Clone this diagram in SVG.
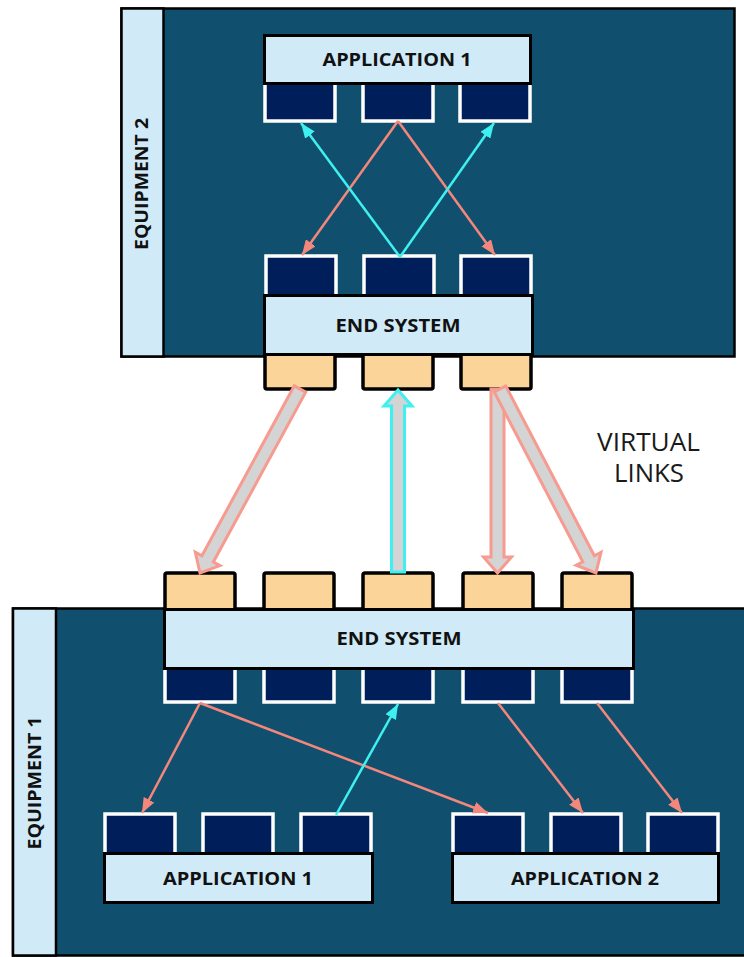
<svg xmlns="http://www.w3.org/2000/svg" width="744" height="957" viewBox="0 0 744 957">
<style>
.equip{fill:#10506e;stroke:#000;stroke-width:2.5}
.lab{fill:#d0eaf7;stroke:#000;stroke-width:2.5}
.box{fill:#d0eaf7;stroke:#000;stroke-width:3}
.port{fill:#001e5a;stroke:#fff;stroke-width:3.5}
.oport{fill:#fbd499;stroke:#000;stroke-width:3.5}
.t{font-family:"Open Sans","DejaVu Sans",sans-serif;font-weight:bold;fill:#111;text-anchor:middle}
.vl{font-family:"Open Sans","DejaVu Sans",sans-serif;font-size:25px;fill:#1a1a1a;text-anchor:middle}
.pk{stroke:#f4877c;stroke-width:2.5;fill:none;marker-end:url(#ap)}
.cy{stroke:#3ff0f0;stroke-width:2.5;fill:none;marker-end:url(#ac)}
.vp{fill:#d4d4d4;stroke:#f79a8f;stroke-width:3;stroke-linejoin:miter}
.vc{fill:#d4d4d4;stroke:#3ff0f0;stroke-width:3}
</style>
<defs>
<marker id="ap" markerUnits="userSpaceOnUse" markerWidth="16" markerHeight="12" refX="15" refY="6" orient="auto"><path d="M0,0 L15,6 L0,12 z" fill="#f4877c"/></marker>
<marker id="ac" markerUnits="userSpaceOnUse" markerWidth="16" markerHeight="12" refX="15" refY="6" orient="auto"><path d="M0,0 L15,6 L0,12 z" fill="#3ff0f0"/></marker>
</defs>
<g id="equipment2">
<rect class="equip" x="121.5" y="8.5" width="613" height="348"/>
<rect class="lab" x="121.5" y="8.5" width="42" height="348"/>
<text class="t" font-size="18" x="142" y="184" dy="0.35em" textLength="132" lengthAdjust="spacingAndGlyphs" transform="rotate(-90 142 184)">EQUIPMENT 2</text>
</g>
<g id="equipment1">
<rect class="equip" x="13" y="608.5" width="740" height="347"/>
<rect class="lab" x="13" y="608.5" width="43" height="347"/>
<text class="t" font-size="18" x="35" y="783" dy="0.35em" textLength="133" lengthAdjust="spacingAndGlyphs" transform="rotate(-90 35 783)">EQUIPMENT 1</text>
</g>
<g id="app1-top">
<rect class="port" x="265" y="78" width="70" height="43"/>
<rect class="port" x="363" y="78" width="70" height="43"/>
<rect class="port" x="460" y="78" width="70" height="43"/>
<rect class="box" x="264.5" y="35.5" width="266" height="48"/>
<text class="t" font-size="18" x="397" y="66" textLength="149" lengthAdjust="spacingAndGlyphs">APPLICATION 1</text>
</g>
<g id="es-top">
<rect class="port" x="266" y="256" width="70" height="44"/>
<rect class="port" x="364" y="256" width="70" height="44"/>
<rect class="port" x="461" y="256" width="70" height="44"/>
<rect class="oport" x="265" y="348" width="70" height="41" rx="2"/>
<rect class="oport" x="363" y="348" width="70" height="41" rx="2"/>
<rect class="oport" x="461" y="348" width="70" height="41" rx="2"/>
<rect class="box" x="264.5" y="295.5" width="268" height="59"/>
<text class="t" font-size="18" x="398" y="331.5" textLength="125" lengthAdjust="spacingAndGlyphs">END SYSTEM</text>
</g>
<g id="es-bottom">
<rect class="oport" x="165" y="573" width="70" height="40" rx="2"/>
<rect class="oport" x="264" y="573" width="70" height="40" rx="2"/>
<rect class="oport" x="363" y="573" width="70" height="40" rx="2"/>
<rect class="oport" x="463" y="573" width="70" height="40" rx="2"/>
<rect class="oport" x="562" y="573" width="70" height="40" rx="2"/>
<rect class="port" x="165" y="663" width="70" height="39"/>
<rect class="port" x="264" y="663" width="70" height="39"/>
<rect class="port" x="363" y="663" width="70" height="39"/>
<rect class="port" x="463" y="663" width="70" height="39"/>
<rect class="port" x="562" y="663" width="70" height="39"/>
<rect class="box" x="164.5" y="609.5" width="469" height="59"/>
<text class="t" font-size="18" x="399" y="645" textLength="125" lengthAdjust="spacingAndGlyphs">END SYSTEM</text>
</g>
<g id="app1-bottom">
<rect class="port" x="105" y="814" width="70" height="44"/>
<rect class="port" x="203" y="814" width="70" height="44"/>
<rect class="port" x="301" y="814" width="70" height="44"/>
<rect class="box" x="104.5" y="853.5" width="268" height="49"/>
<text class="t" font-size="18" x="238" y="885" textLength="150" lengthAdjust="spacingAndGlyphs">APPLICATION 1</text>
</g>
<g id="app2-bottom">
<rect class="port" x="453" y="814" width="70" height="44"/>
<rect class="port" x="551" y="814" width="70" height="44"/>
<rect class="port" x="648" y="814" width="70" height="44"/>
<rect class="box" x="452.5" y="853.5" width="266" height="49"/>
<text class="t" font-size="18" x="585" y="885" textLength="148" lengthAdjust="spacingAndGlyphs">APPLICATION 2</text>
</g>
<g id="label-virtual-links">
<text class="vl" x="648.5" y="451" textLength="103" lengthAdjust="spacingAndGlyphs">VIRTUAL</text>
<text class="vl" x="649" y="482" textLength="70" lengthAdjust="spacingAndGlyphs">LINKS</text>
</g>
<g id="connectors">
<line class="pk" x1="398" y1="121" x2="302" y2="255"/>
<line class="pk" x1="398" y1="121" x2="495" y2="255"/>
<line class="cy" x1="400" y1="257" x2="301" y2="123"/>
<line class="cy" x1="400" y1="257" x2="494" y2="123"/>
<polygon class="vp" points="0,-6.5 193.4,-6.5 193.4,-14 209.4,0 193.4,14 193.4,6.5 0,6.5" transform="translate(300 389) rotate(118.53)"/>
<polygon class="vc" points="0,-6.5 166,-6.5 166,-14 182,0 166,14 166,6.5 0,6.5" transform="translate(398 572) rotate(-90)"/>
<polygon class="vp" points="0,-6.5 168,-6.5 168,-14 184,0 168,14 168,6.5 0,6.5" transform="translate(497.5 389) rotate(90)"/>
<polygon class="vp" points="0,-6.5 191.5,-6.5 191.5,-14 207.5,0 191.5,14 191.5,6.5 0,6.5" transform="translate(500 389) rotate(62.45)"/>
<line class="pk" x1="200" y1="703" x2="142" y2="813"/>
<line class="pk" x1="200" y1="703" x2="488" y2="813"/>
<line class="cy" x1="336" y1="815" x2="398" y2="704"/>
<line class="pk" x1="498" y1="703" x2="583" y2="813"/>
<line class="pk" x1="597" y1="703" x2="682" y2="813"/>
</g>
</svg>
